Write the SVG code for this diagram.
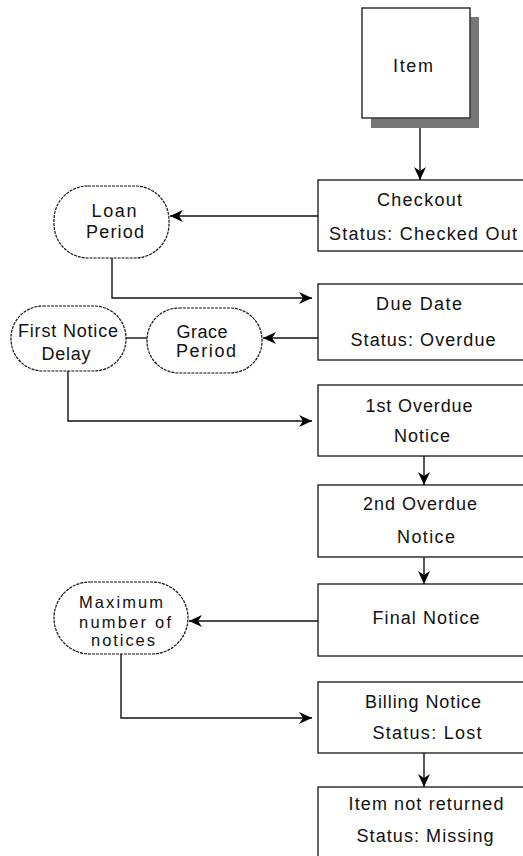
<svg xmlns="http://www.w3.org/2000/svg" width="523" height="856" viewBox="0 0 523 856">
<defs>
<marker id="ah" markerUnits="userSpaceOnUse" markerWidth="16" markerHeight="14" viewBox="-14 -7 16 14" refX="0" refY="0" orient="auto">
<path d="M0,0 L-13,-6 L-9,0 L-13,6 Z" fill="#000"/>
</marker>
</defs>
<style>
.box{fill:#fff;stroke:#333;stroke-width:1.5}
.oval{fill:#fff;stroke:#111;stroke-width:1.2;stroke-dasharray:3 1}
.t{font-family:"Liberation Sans",Arial,sans-serif;font-size:18px;fill:#111;text-anchor:middle}
.s{font-size:16.5px}
.c{fill:none;stroke:#111;stroke-width:1.4}
</style>
<rect width="523" height="856" fill="#fff"/>
<g id="item">
<rect x="371" y="17" width="108" height="111" fill="#777"/>
<rect class="box" x="362" y="8" width="108" height="110"/>
<text class="t" x="413" y="72" textLength="40" lengthAdjust="spacing">Item</text>
</g>
<g id="checkout">
<rect class="box" x="318" y="180" width="230" height="71"/>
<text class="t" x="419.5" y="206" textLength="85" lengthAdjust="spacing">Checkout</text>
<text class="t" x="423" y="240" textLength="188" lengthAdjust="spacing">Status:  Checked  Out</text>
</g>
<g id="duedate">
<rect class="box" x="318" y="284" width="230" height="76"/>
<text class="t" x="419" y="310" textLength="86" lengthAdjust="spacing">Due Date</text>
<text class="t" x="423" y="346" textLength="145" lengthAdjust="spacing">Status:  Overdue</text>
</g>
<g id="first">
<rect class="box" x="318" y="385" width="230" height="71"/>
<text class="t" x="419" y="412" textLength="107" lengthAdjust="spacing">1st Overdue</text>
<text class="t" x="422" y="442" textLength="56" lengthAdjust="spacing">Notice</text>
</g>
<g id="second">
<rect class="box" x="318" y="485" width="230" height="72"/>
<text class="t" x="420" y="510" textLength="114" lengthAdjust="spacing">2nd Overdue</text>
<text class="t" x="426" y="543" textLength="58" lengthAdjust="spacing">Notice</text>
</g>
<g id="final">
<rect class="box" x="318" y="584" width="230" height="72"/>
<text class="t" x="426" y="624" textLength="107" lengthAdjust="spacing">Final Notice</text>
</g>
<g id="billing">
<rect class="box" x="318" y="682" width="230" height="71"/>
<text class="t" x="423" y="708" textLength="116" lengthAdjust="spacing">Billing Notice</text>
<text class="t" x="427" y="739" textLength="109" lengthAdjust="spacing">Status:  Lost</text>
</g>
<g id="missing">
<rect class="box" x="318" y="787" width="230" height="80"/>
<text class="t" x="426" y="810" textLength="155" lengthAdjust="spacing">Item not returned</text>
<text class="t" x="425" y="842" textLength="137" lengthAdjust="spacing">Status:  Missing</text>
</g>
<g id="loan">
<rect class="oval" x="54" y="186" width="115" height="72" rx="34" ry="34"/>
<text class="t" x="114" y="217" textLength="45" lengthAdjust="spacing">Loan</text>
<text class="t" x="115" y="238" textLength="58" lengthAdjust="spacing">Period</text>
</g>
<g id="firstdelay">
<rect class="oval" x="11" y="306" width="115" height="65" rx="32" ry="32"/>
<text class="t" x="68" y="337" textLength="100" lengthAdjust="spacing">First Notice</text>
<text class="t" x="66" y="360" textLength="49" lengthAdjust="spacing">Delay</text>
</g>
<g id="grace">
<rect class="oval" x="147" y="308" width="115" height="65" rx="32" ry="32"/>
<text class="t" x="202" y="338" textLength="51" lengthAdjust="spacing">Grace</text>
<text class="t" x="206" y="357" textLength="60" lengthAdjust="spacing">Period</text>
</g>
<g id="maxnotices">
<rect class="oval" x="54" y="582" width="134" height="72" rx="36" ry="36"/>
<text class="t s" x="121" y="608" textLength="84" lengthAdjust="spacing">Maximum</text>
<text class="t s" x="125" y="628" textLength="92" lengthAdjust="spacing">number of</text>
<text class="t s" x="123" y="646" textLength="64" lengthAdjust="spacing">notices</text>
</g>
<g id="connectors">
<path class="c" d="M420,128 V180" marker-end="url(#ah)"/>
<path class="c" d="M318,216 H170" marker-end="url(#ah)"/>
<path class="c" d="M112,258 V298 H312" marker-end="url(#ah)"/>
<path class="c" d="M318,338 H263" marker-end="url(#ah)"/>
<path class="c" d="M126,338 H147"/>
<path class="c" d="M68,371 V421 H312" marker-end="url(#ah)"/>
<path class="c" d="M424,456 V485" marker-end="url(#ah)"/>
<path class="c" d="M424,557 V584" marker-end="url(#ah)"/>
<path class="c" d="M318,621 H189" marker-end="url(#ah)"/>
<path class="c" d="M121,654 V718 H312" marker-end="url(#ah)"/>
<path class="c" d="M424,753 V787" marker-end="url(#ah)"/>
</g>
</svg>
